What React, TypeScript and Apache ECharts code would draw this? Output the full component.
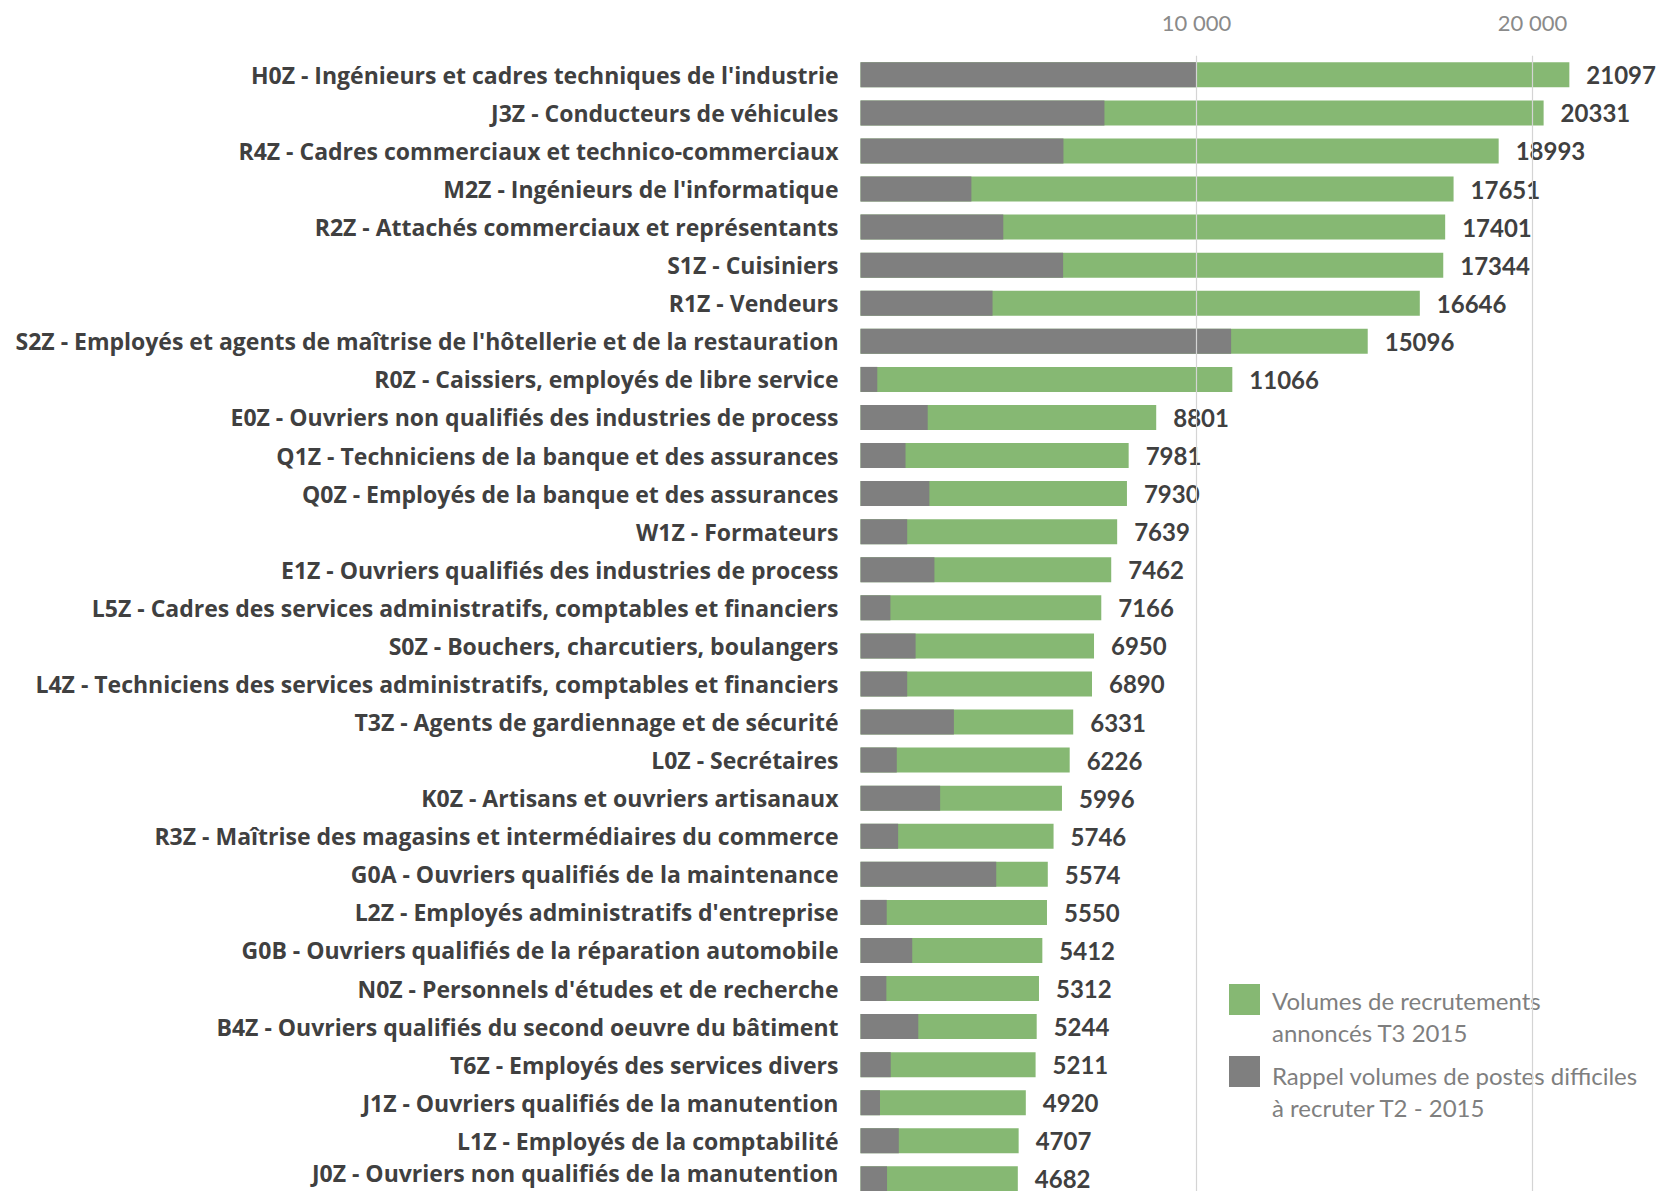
import React, { useEffect, useRef } from "react";
import * as echarts from "echarts";

const categories = [
  "H0Z - Ingénieurs et cadres techniques de l'industrie",
  "J3Z - Conducteurs de véhicules",
  "R4Z - Cadres commerciaux et technico-commerciaux",
  "M2Z - Ingénieurs de l'informatique",
  "R2Z - Attachés commerciaux et représentants",
  "S1Z - Cuisiniers",
  "R1Z - Vendeurs",
  "S2Z - Employés et agents de maîtrise de l'hôtellerie et de la restauration",
  "R0Z - Caissiers, employés de libre service",
  "E0Z - Ouvriers non qualifiés des industries de process",
  "Q1Z - Techniciens de la banque et des assurances",
  "Q0Z - Employés de la banque et des assurances",
  "W1Z - Formateurs",
  "E1Z - Ouvriers qualifiés des industries de process",
  "L5Z - Cadres des services administratifs, comptables et financiers",
  "S0Z - Bouchers, charcutiers, boulangers",
  "L4Z - Techniciens des services administratifs, comptables et financiers",
  "T3Z - Agents de gardiennage et de sécurité",
  "L0Z - Secrétaires",
  "K0Z - Artisans et ouvriers artisanaux",
  "R3Z - Maîtrise des magasins et intermédiaires du commerce",
  "G0A - Ouvriers qualifiés de la maintenance",
  "L2Z - Employés administratifs d'entreprise",
  "G0B - Ouvriers qualifiés de la réparation automobile",
  "N0Z - Personnels d'études et de recherche",
  "B4Z - Ouvriers qualifiés du second oeuvre du bâtiment",
  "T6Z - Employés des services divers",
  "J1Z - Ouvriers qualifiés de la manutention",
  "L1Z - Employés de la comptabilité",
  "J0Z - Ouvriers non qualifiés de la manutention",
];

const volumesT3 = [
  21097, 20331, 18993, 17651, 17401, 17344, 16646, 15096, 11066, 8801,
  7981, 7930, 7639, 7462, 7166, 6950, 6890, 6331, 6226, 5996,
  5746, 5574, 5550, 5412, 5312, 5244, 5211, 4920, 4707, 4682,
];

const difficilesT2 = [
  10000, 7260, 6040, 3300, 4250, 6030, 3930, 11030, 500, 2000,
  1340, 2050, 1390, 2200, 890, 1640, 1390, 2780, 1080, 2370,
  1120, 4040, 780, 1540, 770, 1720, 900, 580, 1140, 790,
];

const tickLabels: Record<number, string> = { 10000: "10 000", 20000: "20 000" };

const seriesNames = [
  "Volumes de recrutements\nannoncés T3 2015",
  "Rappel volumes de postes difficiles\nà recruter T2 - 2015",
];

const GREEN = "#86b873";
const GRAY = "#7f7f7f";

export default function App() {
  const ref = useRef<HTMLDivElement>(null);
  useEffect(() => {
    const chart = echarts.init(ref.current!, null, { renderer: "svg" });
    const lastIdx = categories.length - 1;
    const yData = categories.map((c, i) =>
      i === lastIdx ? { value: c, textStyle: { verticalAlign: "bottom", lineHeight: 12 } } : c
    );
    chart.setOption({
      animation: false,
      backgroundColor: "#ffffff",
      grid: {
        left: 860.5,
        top: 55.8,
        width: 806.4,
        height: 1142.1,
        containLabel: false,
        outerBoundsMode: "none",
      },
      xAxis: {
        type: "value",
        position: "top",
        min: 0,
        max: 24000,
        interval: 10000,
        z: 10,
        axisLine: { show: false },
        axisTick: { show: false },
        splitLine: {
          show: true,
          showMinLine: false,
          showMaxLine: false,
          lineStyle: { color: "#d4d4d4", width: 1.2 },
        },
        axisLabel: {
          margin: 22,
          color: "#8a8a8a",
          fontFamily: "Lato",
          fontSize: 22,
          formatter: (v: number) => tickLabels[v] || "",
        },
      },
      yAxis: {
        type: "category",
        inverse: true,
        data: yData,
        axisLine: { show: false },
        axisTick: { show: false },
        axisLabel: {
          margin: 22,
          color: "#404040",
          fontFamily: "Open Sans",
          fontWeight: "bold",
          fontSize: 23,
          lineHeight: 22,
        },
      },
      series: [
        {
          name: seriesNames[0],
          type: "bar",
          data: volumesT3,
          barWidth: 25,
          itemStyle: { color: GREEN },
          label: {
            show: true,
            position: "right",
            distance: 17,
            color: "#404040",
            fontFamily: "Lato",
            fontWeight: "bold",
            fontSize: 24,
            lineHeight: 22,
          },
        },
        {
          name: seriesNames[1],
          type: "bar",
          data: difficilesT2,
          barWidth: 25,
          barGap: "-100%",
          itemStyle: { color: GRAY },
        },
      ],
      graphic: [
        { type: "rect", left: 1229, top: 984, shape: { width: 31, height: 31 }, style: { fill: GREEN } },
        {
          type: "text",
          left: 1272,
          top: 984,
          style: {
            text: seriesNames[0],
            fill: "#7f7f7f",
            fontFamily: "Lato",
            fontSize: 24,
            lineHeight: 32,
          },
        },
        { type: "rect", left: 1229, top: 1056, shape: { width: 31, height: 31 }, style: { fill: GRAY } },
        {
          type: "text",
          left: 1272,
          top: 1059,
          style: {
            text: seriesNames[1],
            fill: "#7f7f7f",
            fontFamily: "Lato",
            fontSize: 24,
            lineHeight: 32,
          },
        },
      ],
    });
    return () => chart.dispose();
  }, []);
  return (
    <div
      ref={ref}
      style={{ position: "fixed", left: 0, top: 0, width: 1680, height: 1210, background: "#fff" }}
    />
  );
}
